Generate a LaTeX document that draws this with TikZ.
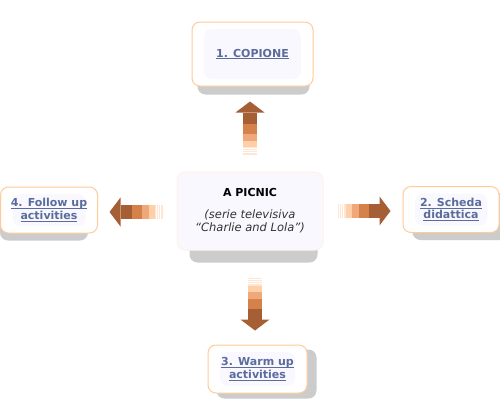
\documentclass[tikz,border=0pt]{standalone}
\usepackage{fontspec}
\newfontfamily\verdana{DejaVu Sans}
\usetikzlibrary{positioning}
\usetikzlibrary{backgrounds}

\definecolor{linkblue}{HTML}{5A6C9C}
\definecolor{boxline}{HTML}{FFCC99}
\definecolor{shadowgray}{HTML}{CCCCCC}
\definecolor{lavender}{HTML}{F9F8FF}
\definecolor{textgray}{HTML}{333333}
\definecolor{brownA}{HTML}{A65F34}
\definecolor{brownB}{HTML}{D4814A}
\definecolor{brownC}{HTML}{EFA87A}
\definecolor{brownD}{HTML}{FFD0A8}
\definecolor{brownE}{HTML}{FFE6D2}

\tikzstyle{card}=[draw=boxline,line width=1pt,fill=white,rounded corners=8pt,
  align=center,text=linkblue,font=\verdana\bfseries\fontsize{11}{12.5}\selectfont,
  path picture={\fill[lavender] ([xshift=12pt,yshift=-7pt]path picture bounding box.north west)
    rectangle ([xshift=-12pt,yshift=7pt]path picture bounding box.south east);}]
\tikzstyle{cardshadow}=[fill=shadowgray,rounded corners=8pt]

% underlined link text, the rule does not change the box
\newcommand{\linktext}[1]{\setbox0\hbox{#1}\rlap{\rule[-2pt]{\wd0}{0.8pt}}\box0}

% block arrow made of fading stripes, #1 = tail point, #2 = angle
\newcommand{\fadedarrow}[2]{%
  \begin{scope}[shift={#1},rotate=#2]
    \foreach \s in {0,2.2,4.4,6.6}
      \fill[brownE] (\s,-7) rectangle ++(1.4,14);
    \fill[brownD] (8,-7) rectangle (14,7);
    \fill[brownC] (14,-7) rectangle (21,7);
    \fill[brownB] (21,-7) rectangle (31,7);
    \fill[brownA] (31,-7) rectangle (42,7);
    \fill[brownA] (42,-14.5) -- (53,0) -- (42,14.5) -- cycle;
  \end{scope}}

\begin{document}
\begin{tikzpicture}[x=1pt,y=-1pt]
  \useasboundingbox (0,0) rectangle (500,416);

  % the cards
  \node [card,fill=lavender,draw=boxline!25,path picture={},text=black,
    font=\verdana\fontsize{11.5}{13}\selectfont,
    minimum width=146pt,minimum height=78pt] (picnic) at (250,211)
    {{\bfseries\fontsize{11}{12}\selectfont A PICNIC}\\[9pt]
     \textcolor{textgray}{\itshape (serie televisiva}\\
     \textcolor{textgray}{\itshape “Charlie and Lola”)}};
  \node [card,minimum width=121pt,minimum height=64pt,xshift=2.5pt,
    above of=picnic,node distance=157pt] (copione) {\linktext{1. COPIONE}};
  \node [card,minimum width=97pt,minimum height=46pt,yshift=1pt,
    left of=picnic,node distance=201pt] (follow) {\linktext{4. Follow up}\\\linktext{activities}};
  \node [card,minimum width=96pt,minimum height=46pt,yshift=1.5pt,
    right of=picnic,node distance=201pt] (scheda) {\linktext{2. Scheda}\\\linktext{didattica}};
  \node [card,minimum width=99pt,minimum height=48pt,xshift=7.5pt,
    below of=picnic,node distance=158pt] (warmup) {\linktext{3. Warm up}\\\linktext{activities}};

  % shadows
  \begin{scope}[on background layer]
    \fill[white] (0,0) rectangle (500,416);
    \fill[cardshadow] ([xshift=6pt,yshift=-8pt]copione.north west) rectangle ([xshift=-4pt,yshift=-8pt]copione.south east);
    \fill[cardshadow] ([xshift=13pt,yshift=-12pt]picnic.north west) rectangle ([xshift=-6pt,yshift=-12pt]picnic.south east);
    \fill[cardshadow] ([yshift=-7pt]follow.north west) rectangle ([xshift=-10pt,yshift=-7pt]follow.south east);
    \fill[cardshadow] ([xshift=10pt,yshift=-7pt]scheda.north west) rectangle ([xshift=10pt,yshift=-7pt]scheda.south east);
    \fill[cardshadow] ([xshift=9pt,yshift=-5pt]warmup.north west) rectangle ([xshift=9pt,yshift=-5pt]warmup.south east);
  \end{scope}

  % arrows
  \fadedarrow{([yshift=17pt]picnic.north)}{90}
  \fadedarrow{([xshift=5pt,yshift=-27pt]picnic.south)}{-90}
  \fadedarrow{([xshift=-14pt,yshift=-1pt]picnic.west)}{180}
  \fadedarrow{([xshift=14pt]picnic.east)}{0}
\end{tikzpicture}
\end{document}
